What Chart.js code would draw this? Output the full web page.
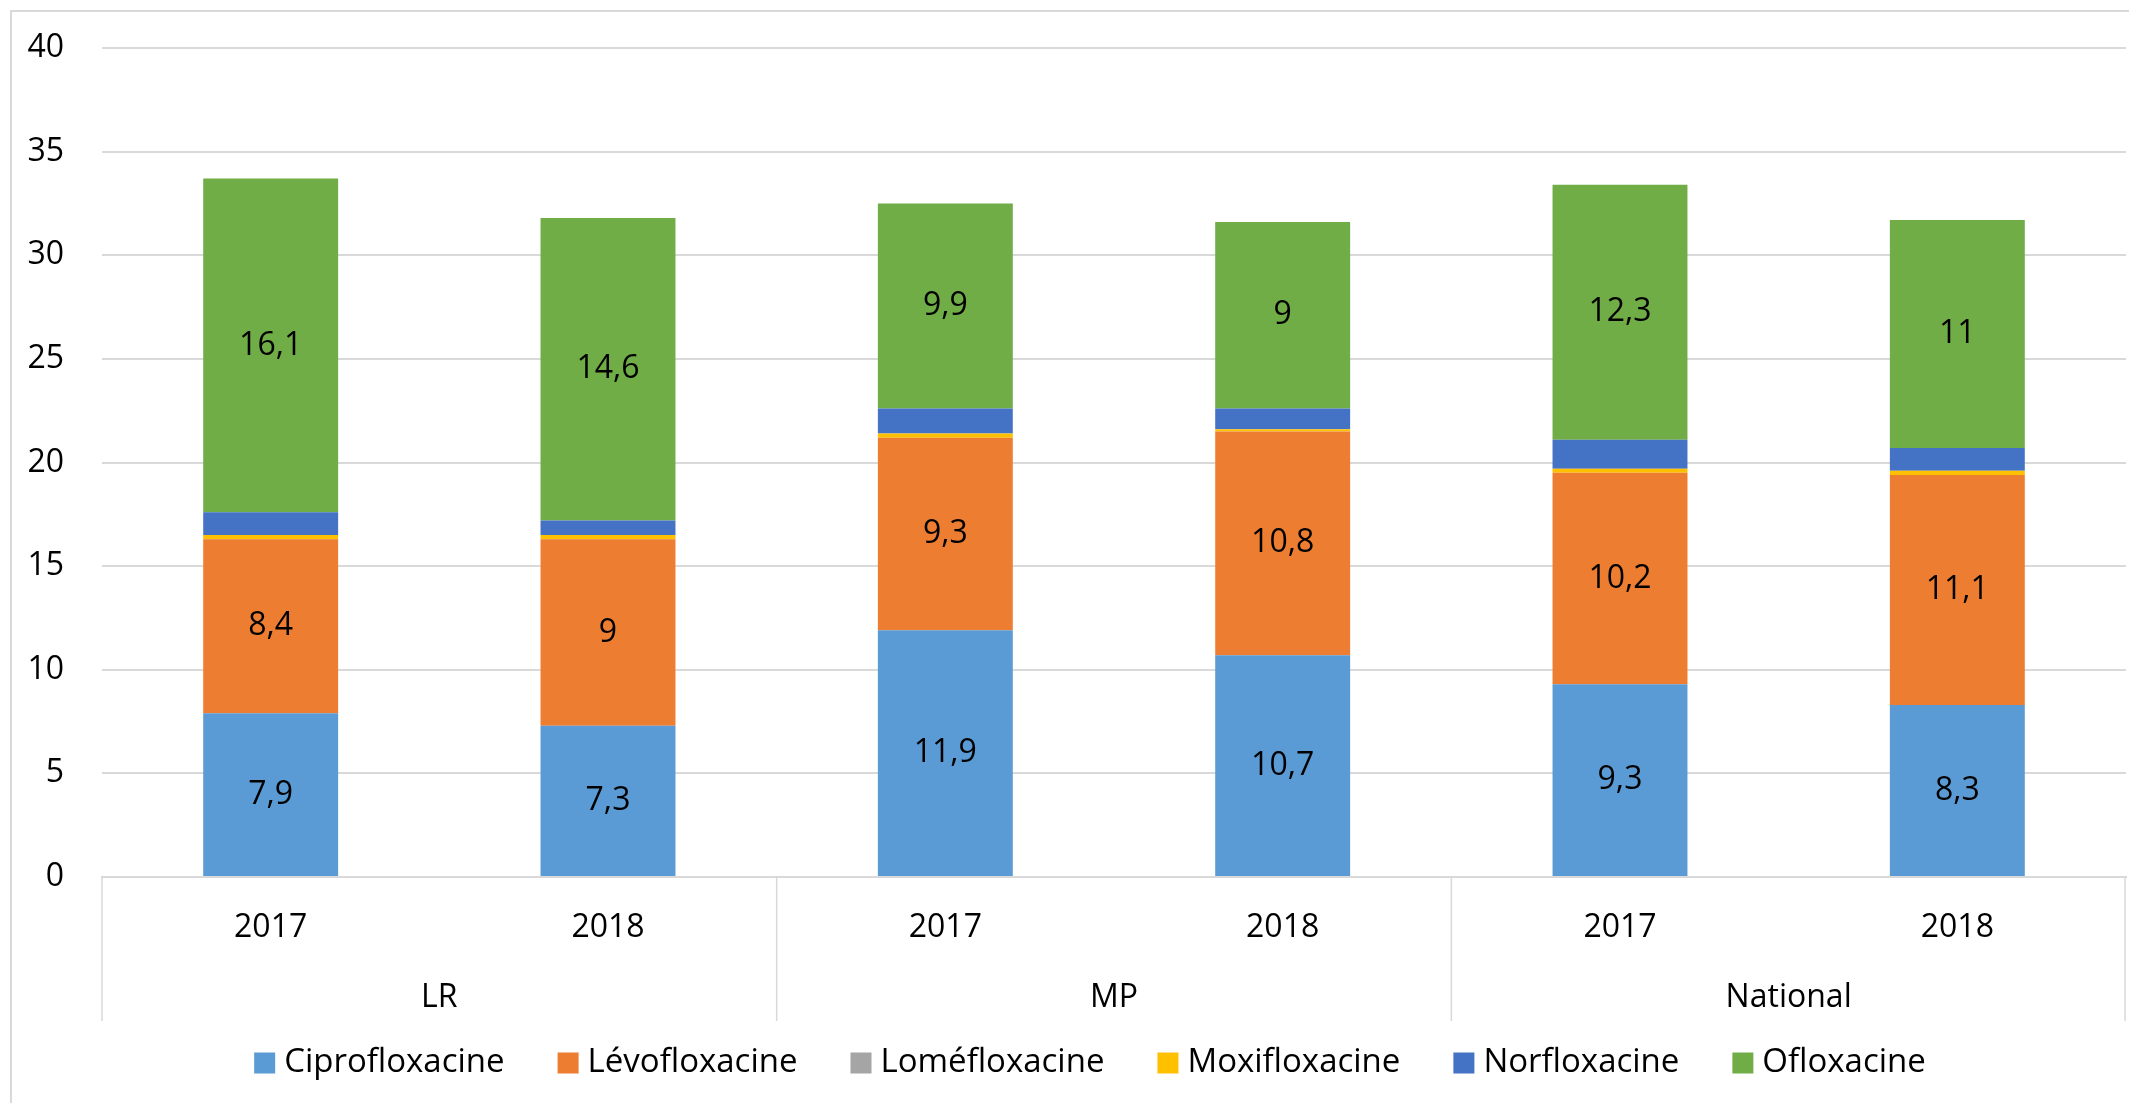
<!DOCTYPE html>
<html>
<head>
<meta charset="utf-8">
<script src="https://cdn.jsdelivr.net/npm/chart.js@4/dist/chart.umd.min.js"></script>
<style>
  body { margin:0; background:#fff; overflow:hidden; }
  #frame { position:absolute; left:10px; top:10px; width:2140px; height:1120px; border-top:2px solid #d9d9d9; border-left:2px solid #d9d9d9; }
  #c { position:absolute; left:0; top:0; }
</style>
</head>
<body>
<div id="frame"></div>
<canvas id="c" width="2129" height="1103"></canvas>
<script>
// -- dati --
const years = ["2017","2018","2017","2018","2017","2018"];
const groups = ["LR","MP","National"];
const cipro = [7.9, 7.3, 11.9, 10.7, 9.3, 8.3];
const levo = [8.4, 9, 9.3, 10.8, 10.2, 11.1];
const lome = [0, 0, 0, 0, 0, 0];
const moxi = [0.2, 0.2, 0.2, 0.1, 0.2, 0.2];
const norf = [1.1, 0.7, 1.2, 1.0, 1.4, 1.1];
const oflo = [16.1, 14.6, 9.9, 9, 12.3, 11];
const yTicks = [0,5,10,15,20,25,30,35,40];

const FONT = "'Open Sans', sans-serif";
const GRID = "#d9d9d9";

// -- etichette dei valori dentro le barre
const valueLabels = {
  id: "valueLabels",
  afterDatasetsDraw(chart) {
    const ctx = chart.ctx;
    ctx.save();
    ctx.font = "32px " + FONT;
    ctx.fillStyle = "#000";
    ctx.textAlign = "center";
    ctx.textBaseline = "middle";
    chart.data.datasets.forEach((ds, di) => {
      if (!ds.showLabel) return;
      chart.getDatasetMeta(di).data.forEach((bar, i) => {
        let v = ds.data[i];
        ctx.fillText(String(v).replace(".", ","), bar.x, (bar.y + bar.base) / 2);
      });
    });
    ctx.restore();
  }
};

// -- asse a due livelli (gruppi + separatori) e legenda in basso
const groupAxis = {
  id: "groupAxis",
  afterDraw(chart) {
    const ctx = chart.ctx, xs = chart.scales.x;
    const top = xs.top, bottom = xs.top + 144;
    ctx.save();
    ctx.strokeStyle = GRID;
    ctx.lineWidth = 1.5;
    let per = years.length / groups.length;
    for (let g = 0; g <= groups.length; g++) {
      let x;
      if (g === 0) x = xs.left;
      else if (g === groups.length) x = xs.right - 1;
      else x = (xs.getPixelForValue(g*per-1) + xs.getPixelForValue(g*per)) / 2;
      ctx.beginPath(); ctx.moveTo(x, top); ctx.lineTo(x, bottom); ctx.stroke();
    }
    ctx.font = "32px " + FONT;
    ctx.fillStyle = "#000";
    ctx.textAlign = "center";
    ctx.textBaseline = "middle";
    groups.forEach((name, g) => {
      let x = (xs.getPixelForValue(g*per) + xs.getPixelForValue(g*per+per-1)) / 2;
      ctx.fillText(name, x, top + 121);
    });

    // legenda
    const box = 21, gap = 9, space = 53, ly = bottom + 42;
    ctx.font = "33px " + FONT;
    ctx.textAlign = "left";
    let items = chart.data.datasets.map(d => ({ label: d.label, color: d.backgroundColor, w: ctx.measureText(d.label).width }));
    let total = items.reduce((s, it) => s + box + gap + it.w, 0) + space * (items.length - 1);
    let x = 1090 - total / 2;
    items.forEach(it => {
      ctx.fillStyle = it.color;
      ctx.fillRect(x, ly - box / 2, box, box);
      ctx.fillStyle = "#000";
      ctx.fillText(it.label, x + box + gap, ly);
      x += box + gap + it.w + space;
    });
    ctx.restore();
  }
};

function ds(label, data, color, showLabel) {
  return { label, data, backgroundColor: color, borderWidth: 0, showLabel,
    barPercentage: 0.4, categoryPercentage: 1 };
}

new Chart(document.getElementById("c"), {
  type: "bar",
  data: {
    labels: years,
    datasets: [
      ds("Ciprofloxacine", cipro, "#5b9bd5", true),
      ds("Lévofloxacine", levo, "#ed7d31", true),
      ds("Loméfloxacine", lome, "#a5a5a5", false),
      ds("Moxifloxacine", moxi, "#ffc000", false),
      ds("Norfloxacine", norf, "#4472c4", false),
      ds("Ofloxacine", oflo, "#70ad47", true)
    ]
  },
  options: {
    responsive: false,
    animation: false,
    devicePixelRatio: 1,
    layout: { padding: { top: 48, right: 3, left: 0, bottom: 82 } },
    plugins: {
      tooltip: { enabled: false },
      legend: { display: false }
    },
    scales: {
      x: {
        stacked: true,
        grid: { display: false, drawTicks: false },
        border: { color: GRID, width: 2 },
        ticks: { font: { family: FONT, size: 32 }, color: "#000", padding: 32, maxRotation: 0 },
        afterFit(s) { s.height = 144; }
      },
      y: {
        stacked: true,
        min: 0, max: 40,
        afterBuildTicks(s) { s.ticks = yTicks.map(v => ({ value: v })); },
        grid: { color: GRID, lineWidth: 2, drawTicks: false },
        border: { display: false },
        ticks: { font: { family: FONT, size: 32 }, color: "#000", padding: 38 },
        afterFit(s) { s.width = 102; s.paddingTop = 0; s.paddingBottom = 0; }
      }
    }
  },
  plugins: [valueLabels, groupAxis]
});
</script>
</body>
</html>
